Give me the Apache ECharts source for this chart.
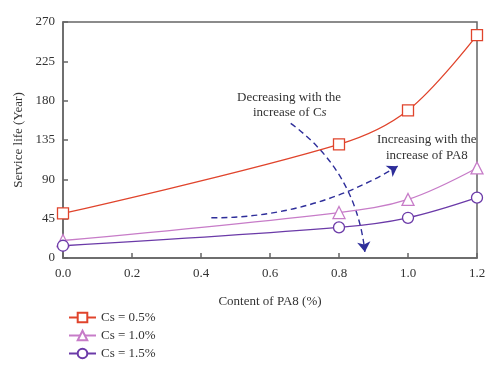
<!DOCTYPE html>
<html><head><meta charset="utf-8">
<script src="https://cdn.jsdelivr.net/npm/echarts@6/dist/echarts.min.js"></script>
<style>html,body{margin:0;padding:0;background:#fff}#c{width:500px;height:373px}</style>
</head><body><div id="c"></div>
<script>
var pa8 = [0.0, 0.8, 1.0, 1.2];
var cs05 = [51, 130, 169, 255];
var cs10 = [20, 52, 67, 103];
var cs15 = [14, 35, 46, 69];
var seriesNames = ['Cs = 0.5%', 'Cs = 1.0%', 'Cs = 1.5%'];
var arrowPA8 = [[0.43, 46], [0.97, 105]];
var arrowCs = [[0.66, 154], [0.875, 7]];

var font = 'Liberation Serif';
function pts(ys){ return pa8.map(function(x,i){ return [x, ys[i]]; }); }
var chart = echarts.init(document.getElementById('c'));
chart.setOption({
  animation: false,
  textStyle: {fontFamily: font},
  grid: {left: 63, right: 23, top: 22, bottom: 115, show: true, borderColor: '#666', borderWidth: 1.5},
  xAxis: {
    type: 'value', min: 0, max: 1.2, interval: 0.2,
    name: 'Content of PA8 (%)', nameLocation: 'middle', nameGap: 37,
    nameTextStyle: {fontFamily: font, fontSize: 13, color: '#333'},
    axisLine: {lineStyle: {color: '#666', width: 1.5}},
    axisTick: {inside: true, length: 5, lineStyle: {color: '#666', width: 1.5}},
    axisLabel: {fontFamily: font, fontSize: 13, color: '#333', margin: 9,
      formatter: function(v){ return v.toFixed(1); }},
    splitLine: {show: false}
  },
  yAxis: {
    type: 'value', min: 0, max: 270, interval: 45,
    name: 'Service life (Year)', nameLocation: 'middle', nameGap: 32,
    nameTextStyle: {fontFamily: font, fontSize: 13, color: '#333'},
    axisLine: {show: true, lineStyle: {color: '#666', width: 1.5}},
    axisTick: {show: true, inside: true, length: 5, lineStyle: {color: '#666', width: 1.5}},
    axisLabel: {fontFamily: font, fontSize: 13, color: '#333', margin: 8},
    splitLine: {show: false}
  },
  legend: {
    orient: 'vertical', left: 63, top: 306, itemWidth: 27, itemHeight: 12, itemGap: 5,
    textStyle: {fontFamily: font, fontSize: 13, color: '#333'},
    data: seriesNames
  },
  series: [
    {name: seriesNames[0], type: 'line', smooth: 0.35, data: pts(cs05),
     symbol: 'rect', symbolSize: 11, color: '#e0442c',
     lineStyle: {color: '#e0442c', width: 1.3},
     itemStyle: {color: '#fff', borderColor: '#e0442c', borderWidth: 1.3}, z: 5},
    {name: seriesNames[1], type: 'line', smooth: 0.35, data: pts(cs10),
     symbol: 'triangle', symbolSize: 12, color: '#c77cc8',
     lineStyle: {color: '#c77cc8', width: 1.3},
     itemStyle: {color: '#fff', borderColor: '#c77cc8', borderWidth: 1.3}, z: 5},
    {name: seriesNames[2], type: 'line', smooth: 0.35, data: pts(cs15),
     symbol: 'circle', symbolSize: 11, color: '#6b3aa8',
     lineStyle: {color: '#6b3aa8', width: 1.3},
     itemStyle: {color: '#fff', borderColor: '#6b3aa8', borderWidth: 1.3}, z: 5},
    {type: 'lines', coordinateSystem: 'cartesian2d', silent: true, z: 3,
     symbol: ['none', 'arrow'], symbolSize: 10,
     lineStyle: {color: '#2e2e9a', width: 1.4, type: [6, 4], curveness: -0.14, opacity: 1},
     data: [{coords: arrowPA8}]},
    {type: 'lines', coordinateSystem: 'cartesian2d', silent: true, z: 3,
     symbol: ['none', 'arrow'], symbolSize: 10,
     lineStyle: {color: '#2e2e9a', width: 1.4, type: [6, 4], curveness: 0.22, opacity: 1},
     data: [{coords: arrowCs}]}
  ],
  graphic: [
    {type: 'text', left: 237, top: 91, z: 10,
     style: {text: 'Decreasing with the', fontFamily: font, fontSize: 13, fill: '#333'}},
    {type: 'text', left: 253, top: 106, z: 10,
     style: {text: '{a|increase of C}{b|s}', fontFamily: font, fontSize: 13, fill: '#333',
       rich: {a: {fontFamily: font, fontSize: 13, color: '#333'}, b: {fontFamily: font, fontSize: 13, fontStyle: 'italic', color: '#333'}}}},
    {type: 'text', left: 377, top: 133, z: 10,
     style: {text: 'Increasing with the', fontFamily: font, fontSize: 13, fill: '#333'}},
    {type: 'text', left: 386, top: 149, z: 10,
     style: {text: 'increase of PA8', fontFamily: font, fontSize: 13, fill: '#333'}}
  ]
});
</script></body></html>
